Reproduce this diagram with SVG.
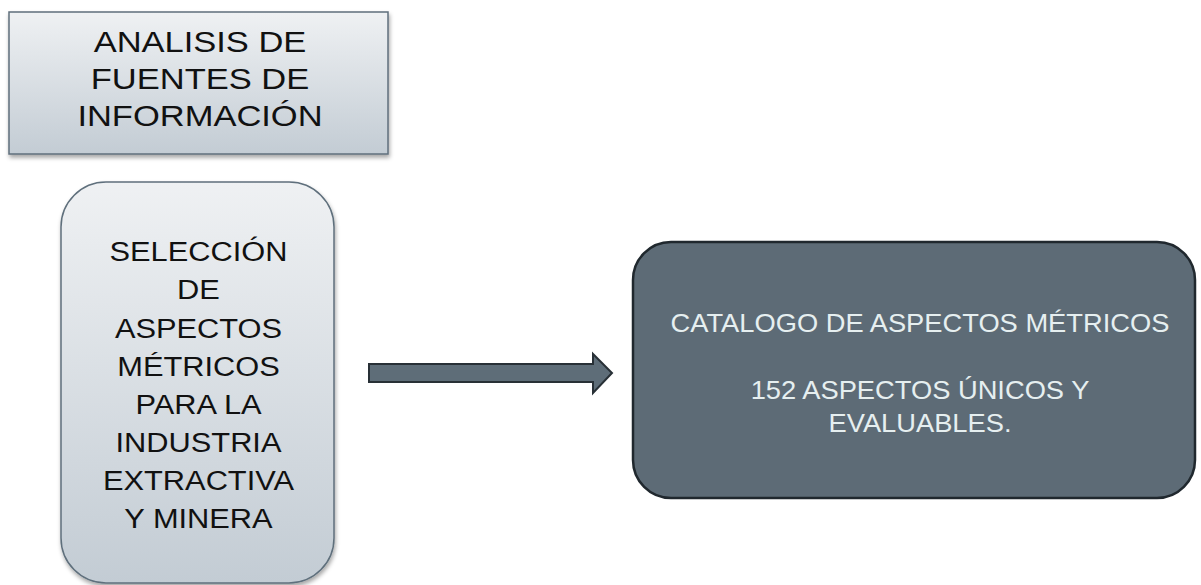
<svg xmlns="http://www.w3.org/2000/svg" width="1201" height="585" viewBox="0 0 1201 585">
<defs>
<linearGradient id="gLight" x1="0" y1="0" x2="0" y2="1">
<stop offset="0" stop-color="#eff1f3"/>
<stop offset="1" stop-color="#c3ccd4"/>
</linearGradient>
<filter id="shadow" x="-10%" y="-10%" width="120%" height="125%">
<feDropShadow dx="1" dy="3" stdDeviation="2" flood-color="#000" flood-opacity="0.35"/>
</filter>
</defs>
<style>
.light{fill:url(#gLight);stroke:#5f6f7c;stroke-width:1.5}
.dark{fill:#5d6b76;stroke:#20282e;stroke-width:2.5}
.t{font-family:"Liberation Sans",Arial,sans-serif;text-anchor:middle}
.tb{fill:#111}
.tw{fill:#e6eff0}
.arrow{fill:#5e6d78;stroke:#283036;stroke-width:2;stroke-linejoin:miter}
</style>
<rect width="1201" height="585" fill="#ffffff"/>
<g id="node-fuentes">
<rect class="light" x="9" y="12" width="379" height="142" filter="url(#shadow)"/>
<g transform="translate(200,0) scale(1.15,1)">
<text class="t tb" font-size="30" x="0" y="52">ANALISIS DE</text>
<text class="t tb" font-size="30" x="0" y="89">FUENTES DE</text>
<text class="t tb" font-size="30" x="0" y="126">INFORMACIÓN</text>
</g>
</g>
<g id="node-seleccion">
<rect class="light" x="61" y="182" width="273" height="401" rx="45" ry="45" filter="url(#shadow)"/>
<g transform="translate(198.5,0) scale(1.1,1)">
<text class="t tb" font-size="28" x="0" y="261">SELECCIÓN</text>
<text class="t tb" font-size="28" x="0" y="299">DE</text>
<text class="t tb" font-size="28" x="0" y="338">ASPECTOS</text>
<text class="t tb" font-size="28" x="0" y="376">MÉTRICOS</text>
<text class="t tb" font-size="28" x="0" y="414">PARA LA</text>
<text class="t tb" font-size="28" x="0" y="452">INDUSTRIA</text>
<text class="t tb" font-size="28" x="0" y="490">EXTRACTIVA</text>
<text class="t tb" font-size="28" x="0" y="528">Y MINERA</text>
</g>
</g>
<g id="connectors">
<path class="arrow" d="M369,364 L593,364 L593,354 L612,373 L593,393 L593,382 L369,382 Z"/>
</g>
<g id="node-catalogo">
<rect class="dark" x="633" y="242" width="562" height="256" rx="38" ry="38"/>
<g transform="translate(920,0) scale(1.03,1)">
<text class="t tw" font-size="26.5" x="0" y="332">CATALOGO DE ASPECTOS MÉTRICOS</text>
<text class="t tw" font-size="26.5" x="0" y="399">152 ASPECTOS ÚNICOS Y</text>
<text class="t tw" font-size="26.5" x="0" y="432">EVALUABLES.</text>
</g>
</g>
</svg>
